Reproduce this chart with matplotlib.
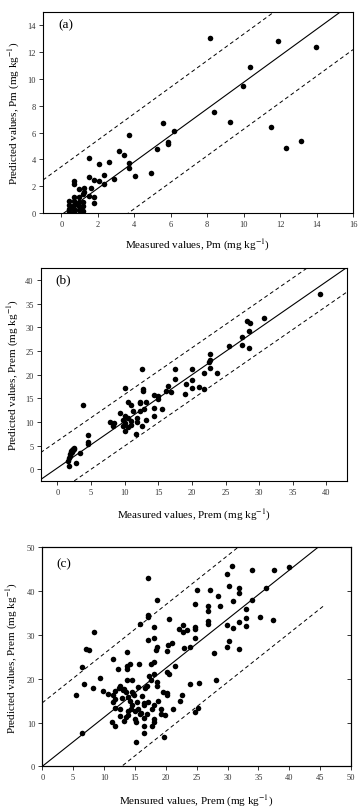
import numpy as np
import matplotlib.pyplot as plt

plt.rcParams['font.family'] = ['Liberation Serif', 'DejaVu Serif']
plt.rcParams['mathtext.fontset'] = 'stix'

# ---- panel (a): Pm ----
pm_meas = [8.17, 11.9, 13.95, 10.35, 9.98, 8.39, 9.23, 11.5, 13.16, 12.32,
           5.56, 6.18, 5.85, 5.85, 5.23, 4.92, 3.71, 3.16, 3.46, 3.71,
           3.71, 4.02, 2.6, 2.05, 1.5, 2.87, 2.32, 2.32, 2.05, 1.78,
           1.5, 1.63, 1.5, 1.81, 1.81, 1.23, 1.23, 0.99, 0.71, 0.71,
           0.45, 0.45, 0.45, 0.45, 0.7, 0.7, 0.7, 0.7, 0.7,
           0.95, 0.95, 0.95, 0.95, 1.2, 1.2, 1.2, 1.2, 0.85, 1.05, 0.6]
pm_pred = [13.05, 12.8, 12.38, 10.93, 9.49, 7.5, 6.8, 6.38, 5.36, 4.83,
           6.73, 6.1, 5.33, 5.13, 4.78, 2.99, 5.85, 4.63, 4.33, 3.76,
           3.36, 2.77, 3.81, 3.64, 4.11, 2.52, 2.86, 2.19, 2.39, 2.47,
           2.67, 1.89, 1.27, 1.22, 0.72, 1.89, 1.6, 1.77, 2.42, 2.14,
           0.9, 0.6, 0.3, 0.08, 1.2, 0.9, 0.6, 0.3, 0.05,
           1.2, 0.8, 0.5, 0.2, 1.4, 0.8, 0.5, 0.15, 0.7, 0.35, 0.45]

# ---- panel (b): Prem ----
pb_meas = [39.0, 30.66, 28.17, 28.57, 28.5, 27.4, 27.5, 28.5, 25.5, 22.7,
           22.7, 22.6, 22.7, 23.7, 21.8, 20.0, 17.5, 17.5, 20.0, 19.1,
           20.0, 21.0, 21.8, 18.9, 16.5, 16.1, 16.9, 15.0, 15.0, 14.3,
           15.5, 14.3, 14.3, 13.1, 12.3, 12.8, 12.6, 12.7, 12.7, 12.3,
           12.3, 13.1, 12.6, 11.8, 11.8, 11.7, 11.3, 10.9, 10.5, 10.1,
           10.9, 10.5, 10.1, 10.1, 10.1, 9.8, 9.7, 10.5, 9.3, 7.8,
           8.4, 8.2, 10.9, 3.8, 4.5, 4.6, 4.6, 3.4, 2.8, 1.7,
           2.5, 2.3, 2.2, 2.0, 2.0, 1.9, 1.8, 1.7, 1.6, 2.3, 2.5, 2.1]
pb_pred = [37.0, 31.9, 31.3, 30.9, 29.2, 28.0, 26.3, 25.6, 26.1, 24.4,
           23.2, 22.7, 21.4, 20.4, 20.4, 21.3, 21.3, 19.0, 18.8, 18.0,
           17.3, 17.5, 16.9, 16.0, 17.6, 16.5, 16.4, 15.4, 14.9, 15.8,
           12.7, 13.0, 11.2, 14.3, 12.4, 12.7, 21.3, 17.0, 16.5, 14.0,
           14.3, 10.5, 9.1, 10.8, 10.1, 7.5, 12.3, 13.7, 14.2, 17.1,
           10.3, 10.8, 11.3, 9.9, 8.1, 9.1, 10.4, 8.9, 11.9, 10.1,
           9.7, 9.2, 9.4, 13.6, 7.3, 5.8, 5.3, 3.4, 1.3, 0.6,
           4.6, 4.4, 4.1, 3.8, 3.5, 3.2, 2.8, 2.3, 1.8, 4.0, 4.3, 3.7]

# ---- panel (c): Prem ----
pc_meas = [17.1, 39.9, 30.8, 29.9, 33.9, 37.5, 30.2, 31.9, 31.9, 36.3,
           27.1, 25.1, 28.5, 24.8, 28.8, 26.8, 26.8, 33.0, 35.2, 34.0,
           30.9, 17.1, 17.1, 18.5, 26.8, 26.8, 33.0, 33.0, 31.9, 30.9,
           37.4, 29.9, 30.2, 29.9, 31.9, 27.8, 28.2, 24.8, 24.8, 24.8,
           22.8, 23.5, 22.8, 22.1, 20.6, 21.0, 20.4, 20.2, 22.9, 23.9,
           18.1, 18.1, 17.1, 18.5, 18.4, 18.1, 17.6, 15.7, 13.8, 14.2,
           13.8, 13.8, 12.3, 11.5, 15.9, 8.4, 7.1, 7.6, 6.5, 6.75,
           8.2, 9.3, 9.9, 10.7, 5.4, 6.4, 21.5, 20.2, 20.6, 18.1,
           17.3, 24.0, 25.4, 22.3, 21.2, 22.7, 20.2, 20.2, 19.5, 18.5,
           18.5, 17.6, 16.9, 16.6, 15.5, 16.1, 14.6, 13.8, 13.2, 12.6,
           12.4, 11.8, 11.5, 11.8, 11.5, 11.7, 11.3, 11.8, 12.6, 13.2,
           13.6, 13.9, 14.2, 14.6, 14.6, 15.0, 15.3, 15.5, 15.8, 15.0,
           15.2, 13.9, 13.9, 13.6, 14.3, 15.1, 16.5, 16.5, 16.9, 16.5,
           16.5, 16.5, 17.7, 18.1, 18.1, 17.7, 18.1, 18.8, 19.2, 19.3,
           19.8, 19.7, 17.2, 24.7, 25.2, 12.6, 14.8, 13.0, 16.0, 12.9]
pc_pred = [43.0, 45.6, 45.8, 43.9, 44.8, 44.8, 41.2, 40.8, 39.5, 40.8,
           40.2, 40.2, 39.0, 37.0, 36.5, 36.5, 35.4, 35.9, 34.2, 38.0,
           37.8, 34.2, 34.5, 38.0, 33.1, 32.6, 33.8, 32.1, 32.9, 31.6,
           33.5, 32.3, 28.7, 27.3, 26.8, 25.8, 19.7, 31.7, 31.3, 29.2,
           32.3, 31.2, 30.7, 31.3, 33.7, 28.2, 27.8, 26.4, 27.1, 27.2,
           31.7, 29.3, 28.9, 27.3, 26.6, 23.9, 23.4, 23.4, 26.2, 23.4,
           22.8, 22.2, 22.2, 24.4, 32.4, 30.6, 26.8, 26.6, 22.7, 18.8,
           17.8, 20.1, 17.1, 16.6, 16.4, 7.5, 23.0, 21.5, 21.0, 21.0,
           20.7, 18.7, 19.0, 15.0, 13.1, 16.4, 16.7, 16.4, 17.0, 18.3,
           19.2, 19.6, 18.4, 17.8, 18.2, 16.1, 19.7, 19.6, 17.7, 18.4,
           17.8, 17.3, 16.4, 15.4, 14.6, 13.3, 10.2, 9.3, 11.4, 10.4,
           17.0, 15.8, 15.0, 16.9, 13.9, 12.7, 14.6, 13.2, 11.9, 10.7,
           10.2, 12.7, 11.7, 11.2, 13.1, 5.5, 14.4, 13.9, 11.9, 11.1,
           9.1, 7.6, 9.3, 10.2, 10.7, 13.2, 13.9, 15.0, 13.1, 11.9,
           11.7, 6.8, 14.6, 12.5, 13.3, 13.1, 16.2, 17.5, 12.2, 15.6]

# fitted line (slope, intercept) and upper/lower offsets
fit_a = (0.99, -0.15, 3.6, -3.5)
fit_b = (0.985, 0.3, 5.7, -5.2)
fit_c = (1.12, 0.0, 14.5, -14.4)

INK = '#333333'


def style_axes(ax):
    for s in ax.spines.values():
        s.set_linewidth(0.8)
    ax.tick_params(axis='both', which='major', direction='out', length=3,
                   width=0.7, labelsize=6, pad=2, colors=INK,
                   labelcolor=INK)


def draw_panel(ax, xm, yp, fit, xlim, ylim, lower_end=None):
    k, b, up, lo = fit
    xs = np.array(xlim)
    ax.plot(xs, k * xs + b, color='black', lw=0.8)
    ax.plot(xs, k * xs + b + up, color='black', lw=0.7, ls=(0, (4, 3)))
    xe = np.array([xlim[0], lower_end if lower_end else xlim[1]])
    ax.plot(xe, k * xe + b + lo, color='black', lw=0.7, ls=(0, (4, 3)))
    ax.plot(xm, yp, 'o', color='black', ms=4, mec='black', mew=0)
    ax.set_xlim(*xlim)
    ax.set_ylim(*ylim)


fig = plt.figure(figsize=(3.63, 8.12), dpi=100)
lab_fs = 8

# (a)
ax1 = fig.add_axes([0.1185, 0.7365, 0.854, 0.2475])
draw_panel(ax1, pm_meas, pm_pred, fit_a, (-1, 16), (0, 15))
ax1.set_xticks(np.arange(0, 17, 2))
ax1.set_yticks(np.arange(0, 15, 2))
style_axes(ax1)
ax1.set_xlabel('Measured values, Pm (mg kg$^{-1}$)', fontsize=lab_fs, labelpad=6)
ax1.set_ylabel('Predicted values, Pm (mg kg$^{-1}$)', fontsize=lab_fs, labelpad=4)
ax1.text(0.05, 0.97, '(a)', transform=ax1.transAxes, fontsize=9.5,
         va='top', ha='left')

# (b)
ax2 = fig.add_axes([0.112, 0.4068, 0.843, 0.2615])
draw_panel(ax2, pb_meas, pb_pred, fit_b, (-2.5, 43), (-2.4, 42.5))
ax2.set_xticks(np.arange(0, 41, 5))
ax2.set_yticks(np.arange(0, 41, 5))
style_axes(ax2)
ax2.set_xlabel('Measured values, Prem (mg kg$^{-1}$)', fontsize=lab_fs, labelpad=8)
ax2.set_ylabel('Predicted values, Prem (mg kg$^{-1}$)', fontsize=lab_fs, labelpad=3)
ax2.text(0.047, 0.975, '(b)', transform=ax2.transAxes, fontsize=9.5,
         va='top', ha='left')

# (c)
ax3 = fig.add_axes([0.1165, 0.055, 0.8505, 0.2697])
draw_panel(ax3, pc_meas, pc_pred, fit_c, (0, 50), (0, 50), lower_end=45.8)
ax3.set_xticks(np.arange(0, 51, 5))
ax3.set_yticks(np.arange(0, 51, 10))
style_axes(ax3)
# inward ticks on the right edge, no labels
ax3r = ax3.twinx()
ax3r.set_ylim(0, 50)
ax3r.set_yticks(np.arange(10, 50, 10))
ax3r.tick_params(axis='y', direction='in', length=3, width=0.7,
                 labelright=False, colors=INK)
ax3.set_xlabel('Mensured values, Prem (mg kg$^{-1}$)', fontsize=lab_fs, labelpad=8)
ax3.set_ylabel('Predicted values, Prem (mg kg$^{-1}$)', fontsize=lab_fs, labelpad=5)
ax3.text(0.045, 0.955, '(c)', transform=ax3.transAxes, fontsize=9.5,
         va='top', ha='left')

fig.savefig('out.png', dpi=100)
